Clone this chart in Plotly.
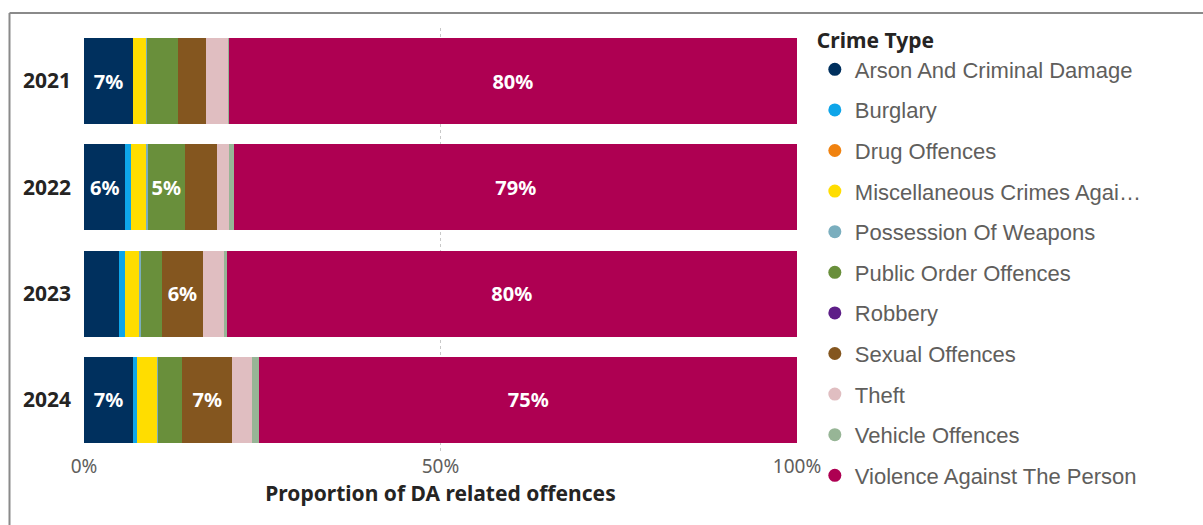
import plotly.graph_objects as go

# Share of domestic-abuse related offences by crime type (%), per year
years = ["2021", "2022", "2023", "2024"]

crime_types = [
    "Arson And Criminal Damage",
    "Burglary",
    "Drug Offences",
    "Miscellaneous Crimes Agai…",
    "Possession Of Weapons",
    "Public Order Offences",
    "Robbery",
    "Sexual Offences",
    "Theft",
    "Vehicle Offences",
    "Violence Against The Person",
]

arson = [6.9, 5.8, 4.9, 6.9]
burglary = [0.0, 0.8, 0.8, 0.5]
drugs = [0.0, 0.0, 0.0, 0.0]
misc = [1.8, 2.2, 2.1, 2.9]
weapons = [0.2, 0.2, 0.2, 0.1]
public_order = [4.3, 5.1, 2.9, 3.4]
robbery = [0.0, 0.0, 0.0, 0.0]
sexual = [3.9, 4.6, 5.8, 7.0]
theft = [3.1, 1.6, 3.0, 2.8]
vehicle = [0.1, 0.8, 0.3, 1.0]
violence = [79.7, 78.9, 80.0, 75.4]

series = [arson, burglary, drugs, misc, weapons, public_order,
          robbery, sexual, theft, vehicle, violence]

colors = ["#00305E", "#0EA5E9", "#F0820F", "#FFDD00", "#7AAEBE", "#698F3B",
          "#5E1F88", "#84561F", "#E0BEC1", "#97B596", "#AE0052"]

# segments narrower than this get no data label
label_min = 5.0

ui_font = "Segoe UI, Noto Sans, sans-serif"

fig = go.Figure()

for name, vals, col in zip(crime_types, series, colors):
    labels = [f"{round(v)}%" if v >= label_min else "" for v in vals]
    fig.add_trace(go.Bar(
        y=years, x=vals, name=name, orientation="h",
        marker=dict(color=col, line=dict(width=0)),
        text=labels, textposition="inside", insidetextanchor="middle",
        textfont=dict(family=ui_font, size=20, color="white", weight="bold"),
        showlegend=False, hoverinfo="x+name",
    ))

# round legend markers
for i, (name, col) in enumerate(zip(crime_types, colors)):
    fig.add_trace(go.Scatter(
        x=[None], y=[None], mode="markers", name=name,
        marker=dict(color=col, size=13, symbol="circle"),
        legendgroup=f"g{i}", showlegend=True,
    ))

# frame lines (left and top edges of the visual)
fx0 = (9.5 - 84) / 713
fy1 = (453 - 13) / 425
fig.add_shape(type="line", xref="paper", yref="paper",
              x0=fx0, x1=fx0, y0=-0.2, y1=fy1,
              line=dict(color="#8A8A8A", width=2))
fig.add_shape(type="line", xref="paper", yref="paper",
              x0=fx0, x1=1.6, y0=fy1, y1=fy1,
              line=dict(color="#8A8A8A", width=2))

fig.update_layout(
    barmode="stack",
    bargap=0.19,
    width=1203, height=525,
    margin=dict(l=84, r=406, t=28, b=72),
    paper_bgcolor="white", plot_bgcolor="white",
    font=dict(family=ui_font),
    legend=dict(
        title=dict(text="<b>Crime Type</b>",
                   font=dict(family=ui_font, size=21, color="#252423")),
        font=dict(family="Liberation Sans, Arial, sans-serif", size=22, color="#605E5C"),
        x=1.025, xanchor="left", y=1.016, yanchor="top",
        tracegroupgap=9, itemwidth=30,
        maxheight=520,
        bgcolor="rgba(0,0,0,0)",
    ),
    xaxis=dict(
        range=[0, 100], tickvals=[0, 50, 100], ticktext=["0%", "50%", "100%"],
        showgrid=True, gridcolor="#C8C8C8", griddash="dot", gridwidth=1,
        zeroline=False, showline=False,
        tickfont=dict(size=19, color="#605E5C"),
        title=dict(text="Proportion of DA related offences",
                   font=dict(size=21, color="#252423", weight="bold"), standoff=8),
    ),
    yaxis=dict(
        type="category", autorange="reversed",
        showgrid=False, zeroline=False, showline=False,
        tickfont=dict(size=21, color="#252423", weight="bold"),
        ticklabelstandoff=12,
    ),
    uniformtext=dict(mode="show", minsize=10),
)

fig.write_html("out.html")
